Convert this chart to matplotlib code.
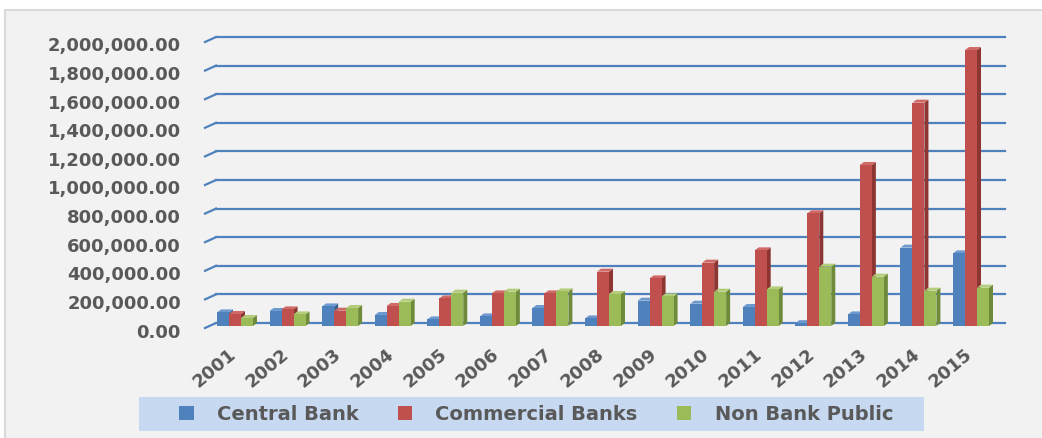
import matplotlib
matplotlib.use("Agg")
import matplotlib.pyplot as plt
import matplotlib.transforms as mtransforms
from matplotlib.patches import Rectangle, Polygon, Patch
import numpy as np

years = ["2001", "2002", "2003", "2004", "2005", "2006", "2007", "2008",
         "2009", "2010", "2011", "2012", "2013", "2014", "2015"]
central_bank = [95000, 105000, 137000, 77000, 46000, 67000, 126000, 53000,
                177000, 156000, 133000, 20000, 81000, 548000, 508000]
commercial_banks = [84000, 116000, 107000, 140000, 193000, 228000, 228000, 380000,
                    333000, 443000, 529000, 788000, 1126000, 1562000, 1930000]
non_bank_public = [56000, 81000, 126000, 170000, 233000, 240000, 242000, 224000,
                   207000, 240000, 256000, 415000, 345000, 247000, 268000]
series_names = ["Central Bank", "Commercial Banks", "Non Bank Public"]
yticks = np.arange(0, 2000001, 200000)

# front / side / top colours for the fake 3d columns
front = ["#4F81BD", "#C0504D", "#9BBB59"]
side = ["#37608F", "#8C3532", "#6F8A3A"]
top = ["#6E99CF", "#D06A67", "#B3CD7A"]
text_col = "#595959"

W, H = 1042, 439
fig = plt.figure(figsize=(W / 100, H / 100), dpi=100, facecolor="white")

# chart area background
fig.patches.append(Rectangle((5 / W, -0.05), 1.1, 1 - 11 / H + 0.05,
                             transform=fig.transFigure, facecolor="#F2F2F2",
                             edgecolor="#D9D9D9", linewidth=1.5, zorder=-2))

ax = fig.add_axes([208.7 / W, 1 - 327 / H, 788.6 / W, 286 / H], zorder=2)
ax.set_facecolor("none")
ax.set_xlim(-0.5, 14.5)
ax.set_ylim(0, 2000000)
for s in ax.spines.values():
    s.set_visible(False)

px_x = 1 / 52.57          # one pixel in category units
px_y = 2000000 / 286      # one pixel in value units
dx, dy = 4 * px_x, 3 * px_y

# back wall gridlines with the little floor diagonal on the left
for v in yticks:
    gy = v + 3 * px_y
    ax.plot([-0.361, 14.646], [gy, gy], color="#4F81BD", lw=1.6,
            clip_on=False, zorder=1)
    ax.plot([-0.361 - 11 * px_x, -0.361], [gy - 5 * px_y, gy], color="#4F81BD",
            lw=1.6, clip_on=False, zorder=1)

x = np.arange(len(years))
w = 0.228
data = [central_bank, commercial_banks, non_bank_public]
for i in range(len(years)):
    for k, vals in enumerate(data):
        h = vals[i]
        x0 = x[i] + (k - 1) * w - w / 2
        x1 = x0 + w
        z = 3 + i * 3 + k
        ax.add_patch(Polygon([(x1, 0), (x1 + dx, dy), (x1 + dx, h + dy), (x1, h)],
                             closed=True, facecolor=side[k], edgecolor="none",
                             zorder=z, clip_on=False))
        ax.add_patch(Polygon([(x0, h), (x1, h), (x1 + dx, h + dy), (x0 + dx, h + dy)],
                             closed=True, facecolor=top[k], edgecolor="none",
                             zorder=z, clip_on=False))
        ax.bar(x[i] + (k - 1) * w, h, width=w, color=front[k], zorder=z + 0.5,
               clip_on=False)

ax.set_yticks(yticks)
ax.set_yticklabels([f"{v:,.2f}" for v in yticks], fontsize=13,
                   fontweight="bold", color=text_col)
ax.tick_params(axis="y", length=0, pad=20)
shift = mtransforms.ScaledTranslation(0, -3.5 / 100, fig.dpi_scale_trans)
for lab in ax.get_yticklabels():
    lab.set_transform(lab.get_transform() + shift)

ax.set_xticks(x)
ax.set_xticklabels(years, rotation=40, ha="right", va="center",
                   rotation_mode="anchor", fontsize=13, fontweight="bold",
                   color=text_col)
ax.tick_params(axis="x", length=0, pad=18)
xshift = mtransforms.ScaledTranslation(-1 / 100, 0, fig.dpi_scale_trans)
for lab in ax.get_xticklabels():
    lab.set_transform(lab.get_transform() + xshift)

# legend band
fig.patches.append(Rectangle((139 / W, 1 - 432 / H), 785 / W, 34 / H,
                             transform=fig.transFigure, facecolor="#C6D9F1",
                             edgecolor="none", zorder=-1))
handles = [Patch(facecolor=c, edgecolor="none") for c in front]
fig.legend(handles, series_names, loc="center", ncol=3, frameon=False,
           bbox_to_anchor=(536 / W, 1 - 415 / H),
           prop={"size": 14, "weight": "bold"}, labelcolor=text_col,
           handlelength=0.75, handleheight=0.75, handletextpad=1.2,
           columnspacing=2.0)

fig.savefig("out.png", dpi=100, facecolor=fig.get_facecolor())
